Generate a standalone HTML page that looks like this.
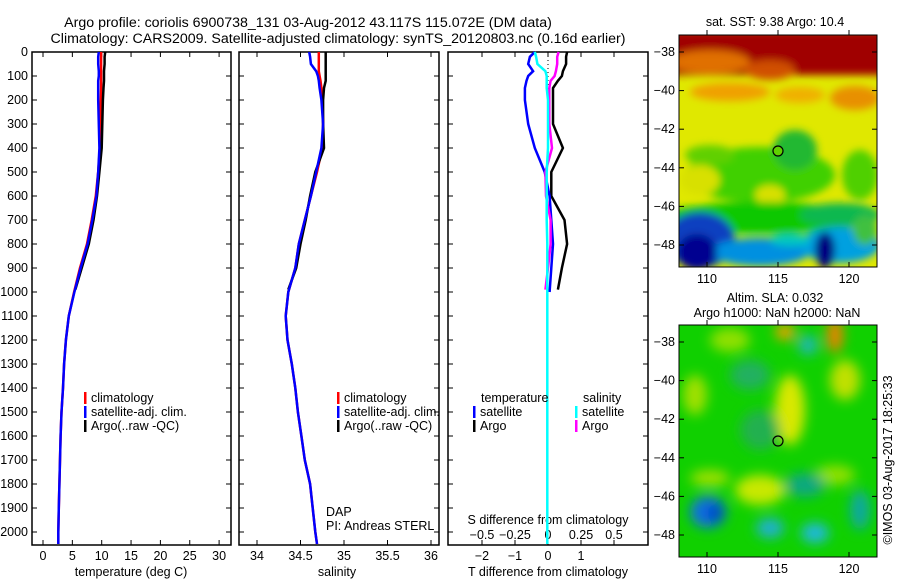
<!DOCTYPE html>
<html><head><meta charset="utf-8"><style>
body{margin:0;background:#fff;}
svg{display:block;font-family:"Liberation Sans",sans-serif;}
text{font-size:12.5px;fill:#000;}
.ttl{font-size:14.2px;}
</style></head><body>
<svg id="c" width="900" height="580">
<defs>
<filter id="bl" x="-20%" y="-20%" width="140%" height="140%"><feGaussianBlur stdDeviation="4"/></filter>
<filter id="bl2" x="-20%" y="-20%" width="140%" height="140%"><feGaussianBlur stdDeviation="6"/></filter>
<clipPath id="m1c"><rect x="679" y="35" width="198" height="232"/></clipPath>
<clipPath id="m2c"><rect x="679" y="325" width="198" height="232"/></clipPath>
</defs>
<text class="ttl" x="308" y="27" text-anchor="middle">Argo profile: coriolis 6900738_131 03-Aug-2012 43.117S 115.072E (DM data)</text>
<text class="ttl" x="338" y="43" text-anchor="middle">Climatology: CARS2009. Satellite-adjusted climatology: synTS_20120803.nc (0.16d earlier)</text>

<!-- Map 1 SST -->
<g clip-path="url(#m1c)">
<rect x="679" y="35" width="198" height="232" fill="#e0e800"/>
<g filter="url(#bl)">
<rect x="670" y="30" width="215" height="45" fill="#a00000"/>
<ellipse cx="710" cy="62" rx="40" ry="12" fill="#e07000"/>
<ellipse cx="770" cy="70" rx="25" ry="10" fill="#d05000"/>
<ellipse cx="730" cy="92" rx="40" ry="9" fill="#f0a000"/>
<ellipse cx="800" cy="95" rx="25" ry="8" fill="#f0b000"/>
<ellipse cx="855" cy="98" rx="25" ry="12" fill="#e89000"/>
<ellipse cx="760" cy="175" rx="75" ry="28" fill="#40d000"/>
<ellipse cx="795" cy="150" rx="22" ry="20" fill="#20b830"/>
<ellipse cx="710" cy="155" rx="25" ry="10" fill="#60d000"/>
<ellipse cx="860" cy="175" rx="18" ry="25" fill="#50d000"/>
<ellipse cx="700" cy="180" rx="20" ry="15" fill="#d8e000"/>
<ellipse cx="770" cy="195" rx="15" ry="10" fill="#d8e000"/>
<ellipse cx="760" cy="218" rx="100" ry="16" fill="#10c800"/>
<ellipse cx="840" cy="215" rx="40" ry="12" fill="#10b850"/>
<ellipse cx="700" cy="240" rx="35" ry="28" fill="#1040c0"/>
<ellipse cx="760" cy="252" rx="50" ry="14" fill="#0090e0"/>
<ellipse cx="840" cy="245" rx="40" ry="18" fill="#00a0e0"/>
<ellipse cx="697" cy="252" rx="20" ry="18" fill="#000090"/>
<ellipse cx="825" cy="250" rx="10" ry="18" fill="#000080"/>
<ellipse cx="790" cy="240" rx="20" ry="6" fill="#00c8c0"/>
<ellipse cx="865" cy="230" rx="12" ry="15" fill="#40c040"/>
</g>
<circle cx="778" cy="151" r="5" fill="#60d000" stroke="#000" stroke-width="1.2"/>
</g>
<rect x="679" y="35" width="198" height="232" fill="none" stroke="#000"/>
<text x="775" y="26" text-anchor="middle">sat. SST: 9.38 Argo: 10.4</text>

<!-- Map 2 SLA -->
<g clip-path="url(#m2c)">
<rect x="679" y="325" width="198" height="232" fill="#10d000"/>
<g filter="url(#bl2)">
<ellipse cx="790" cy="410" rx="15" ry="35" fill="#d8e800"/>
<ellipse cx="835" cy="335" rx="8" ry="18" fill="#f08000"/>
<ellipse cx="785" cy="332" rx="10" ry="8" fill="#f0a000"/>
<ellipse cx="845" cy="380" rx="15" ry="20" fill="#c0e000"/>
<ellipse cx="730" cy="340" rx="20" ry="12" fill="#90e000"/>
<ellipse cx="695" cy="395" rx="12" ry="20" fill="#a0e000"/>
<ellipse cx="760" cy="490" rx="25" ry="15" fill="#c8e800"/>
<ellipse cx="710" cy="478" rx="20" ry="8" fill="#a0e000"/>
<ellipse cx="835" cy="475" rx="20" ry="10" fill="#90e000"/>
<ellipse cx="708" cy="512" rx="18" ry="16" fill="#1070e0"/>
<ellipse cx="715" cy="513" rx="8" ry="8" fill="#0040c0"/>
<ellipse cx="770" cy="528" rx="14" ry="10" fill="#20b0d0"/>
<ellipse cx="815" cy="533" rx="14" ry="10" fill="#20b8e0"/>
<ellipse cx="805" cy="485" rx="20" ry="12" fill="#10a880"/>
<ellipse cx="860" cy="510" rx="10" ry="20" fill="#10a8a0"/>
<ellipse cx="808" cy="345" rx="10" ry="10" fill="#20b8b0"/>
<ellipse cx="750" cy="375" rx="20" ry="15" fill="#20b060"/>
<ellipse cx="760" cy="430" rx="20" ry="20" fill="#20b050"/>
</g>
<circle cx="778" cy="441" r="5" fill="none" stroke="#000" stroke-width="1.2"/>
</g>
<rect x="679" y="325" width="198" height="232" fill="none" stroke="#000"/>
<text x="775" y="302" text-anchor="middle">Altim. SLA: 0.032</text>
<text x="777" y="317" text-anchor="middle">Argo h1000: NaN h2000: NaN</text>
<text transform="translate(892,460) rotate(-90)" text-anchor="middle">©IMOS 03-Aug-2017 18:25:33</text>
<g id="maxes"></g>
<g id="plots"></g>
</svg>
<script>
// ---- data ----
const depths = [0,20,50,80,100,120,150,200,300,400,500,600,700,800,900,1000,1100,1200,1300,1400,1500,1600,1700,1800,1900,2000,2050];
const tempClim = [9.9,9.9,9.9,9.9,9.9,9.9,9.9,9.85,9.8,9.7,9.4,9.0,8.3,7.5,6.3,5.3,4.4,3.9,3.6,3.4,3.15,3.0,2.9,2.8,2.7,2.6,2.6];
const tempSat = [9.5,9.4,9.4,9.5,9.5,9.4,9.4,9.4,9.5,9.6,9.4,9.1,8.4,7.6,6.4,5.35,4.4,3.9,3.6,3.4,3.15,3.0,2.9,2.8,2.7,2.6,2.6];
const argoDepths = [0,20,50,80,100,120,150,200,300,400,500,600,700,800,900,990];
const tempArgo = [10.6,10.5,10.5,10.4,10.4,10.4,10.3,10.2,10.1,10.0,9.6,9.2,8.6,7.8,6.6,5.5];
const salClim = [34.71,34.71,34.71,34.71,34.72,34.73,34.74,34.75,34.76,34.75,34.69,34.62,34.55,34.48,34.44,34.36,34.33,34.35,34.40,34.44,34.47,34.51,34.55,34.61,34.64,34.67,34.69];
const salSat = [34.60,34.61,34.62,34.68,34.70,34.71,34.72,34.74,34.76,34.74,34.68,34.62,34.55,34.48,34.44,34.36,34.33,34.35,34.40,34.44,34.47,34.51,34.55,34.61,34.64,34.67,34.69];
const salArgo = [34.79,34.79,34.79,34.79,34.79,34.79,34.77,34.76,34.76,34.77,34.67,34.61,34.56,34.50,34.45,34.36];
const dTsat = [-0.4,-0.55,-0.6,-0.45,-0.6,-0.65,-0.7,-0.7,-0.6,-0.4,-0.1,0.05,0.1,0.15,0.1,0.05,0,0,0,0,0,0,0,0,0,0,0];
const dSsat = [-0.1,-0.09,-0.08,-0.02,-0.01,-0.01,-0.01,0,0,0,-0.01,-0.01,-0.01,-0.005,-0.005,-0.005,-0.005,-0.005,-0.005,-0.005,-0.005,-0.005,-0.005,-0.005,-0.005,-0.005,-0.005];
const dTargo = [0.58,0.55,0.55,0.45,0.42,0.3,0.15,0.15,0.15,0.45,0.1,0.1,0.5,0.58,0.42,0.3];
const dSargo = [0.08,0.07,0.07,0.06,0.05,0.02,0.01,0.01,0.01,0.03,-0.02,-0.015,0.02,0.02,0.0,-0.02];
const depthTicks = [0,100,200,300,400,500,600,700,800,900,1000,1100,1200,1300,1400,1500,1600,1700,1800,1900,2000];
const tempTicks = [0,5,10,15,20,25,30];
const salTicks = [34,34.5,35,35.5,36];
const tdTicks = [-2,-1,0,1];
const sdTicks = [-0.5,-0.25,0,0.25,0.5];
const latTicks = [-38,-40,-42,-44,-46,-48];
const lonTicks = [110,115,120];

// ---- axis functions ----
const NS='http://www.w3.org/2000/svg';
const Y0=52, Y1=545;
const yD = d => Y0 + d*0.24;
const xT = t => 43 + t*5.87;
const xS = s => 257 + (s-34)*87;
const xdT = t => 548 + t*33;
const xdS = s => 548 + s*132;
const latY1 = la => 52 + (-38-la)*19.3;
const latY2 = la => 342 + (-38-la)*19.3;
const lonX = lo => 707 + (lo-110)*14.2;
const plots=document.getElementById('plots');
function mk(tag,attrs,parent){const e=document.createElementNS(NS,tag);for(const k in attrs)e.setAttribute(k,attrs[k]);(parent||plots).appendChild(e);return e;}
function line(xs,ds,fx,color,name){
  const pts=xs.map((v,i)=>fx(v).toFixed(1)+','+yD(ds[i]).toFixed(1)).join(' ');
  const p=mk('polyline',{points:pts,fill:'none',stroke:color,'stroke-width':2.5});
  
  
}
function txt(x,y,s,anchor,name){const t=mk('text',{x:x,y:y,'text-anchor':anchor||'start'});t.textContent=s;
  
  
  return t;}
function frame(x0,x1,name){const r=mk('rect',{x:x0,y:Y0,width:x1-x0,height:Y1-Y0,fill:'none',stroke:'#000','stroke-width':1.5});
  
  }
function tick(x1,y1,x2,y2){const l=mk('line',{x1:x1,y1:y1,x2:x2,y2:y2,stroke:'#000','stroke-width':1});
  
  }

const panels=[[32,231],[239,439],[448,648]];
panels.forEach((p,i)=>{
  frame(p[0],p[1],'profile-panel-'+(i+1));
  depthTicks.forEach(d=>{tick(p[0],yD(d),p[0]+5,yD(d));tick(p[1]-5,yD(d),p[1],yD(d));});
});
depthTicks.forEach(d=>txt(28,yD(d)+4,String(d),'end','depth-tick-label'));
tempTicks.forEach(t=>{tick(xT(t),Y0,xT(t),Y0+5);tick(xT(t),Y1-5,xT(t),Y1);txt(xT(t),560,String(t),'middle','temp-tick-label');});
salTicks.forEach(s=>{tick(xS(s),Y0,xS(s),Y0+5);tick(xS(s),Y1-5,xS(s),Y1);txt(xS(s),560,String(s),'middle','salinity-tick-label');});
sdTicks.forEach(s=>{tick(xdS(s),Y0,xdS(s),Y0+5);tick(xdS(s),Y1-5,xdS(s),Y1);txt(xdS(s),539,String(s).replace('-','\u2212'),'middle','s-diff-tick-label');});
tdTicks.forEach(t=>txt(xdT(t),560,String(t).replace('-','\u2212'),'middle','t-diff-tick-label'));
txt(131,576,'temperature (deg C)','middle','temperature-axis-title');
txt(337,576,'salinity','middle','salinity-axis-title');
txt(548,576,'T difference from climatology','middle','t-diff-axis-title');
txt(548,524,'S difference from climatology','middle','s-diff-axis-title');
txt(326,516,'DAP','start','dap-label');
txt(326,530,'PI: Andreas STERL','start','pi-label');

// zero dotted line
const zl=mk('line',{x1:xdT(0),y1:Y0,x2:xdT(0),y2:yD(200),stroke:'#000','stroke-dasharray':'1,3'});



// temperature
line(tempClim,depths,xT,'#ff0000','temp-climatology-line');
line(tempArgo,argoDepths,xT,'#000','temp-argo-line');
line(tempSat,depths,xT,'#0000ff','temp-satellite-line');
// salinity
line(salClim,depths,xS,'#ff0000','salinity-climatology-line');
line(salArgo,argoDepths,xS,'#000','salinity-argo-line');
line(salSat,depths,xS,'#0000ff','salinity-satellite-line');
// differences
line(dTargo,argoDepths,xdT,'#000','t-diff-argo-line');
line(dTsat.slice(0,16),depths.slice(0,16),xdT,'#0000ff','t-diff-satellite-line');
line(dSargo,argoDepths,xdS,'#ff00ff','s-diff-argo-line');
line(dSsat,depths,xdS,'#00ffff','s-diff-satellite-line');

// legends
function leg(x,y,color,label,name){
  const r=mk('rect',{x:x,y:y-10,width:2.5,height:12,fill:color});
  
  
  if(label)txt(x+7,y,label,'start',name);
}
[[84,'climatology-legend'],[337,'climatology-legend-2']].forEach(([x,n])=>{
  leg(x,402,'#ff0000','climatology',n);
  leg(x,416,'#0000ff','satellite-adj. clim.',n+'-sat');
  leg(x,430,'#000','Argo(..raw -QC)',n+'-argo');
});
txt(481,402,'temperature','start','diff-legend-temperature-header');
leg(473,416,'#0000ff','satellite','diff-legend-t-satellite');
leg(473,430,'#000','Argo','diff-legend-t-argo');
txt(583,402,'salinity','start','diff-legend-salinity-header');
leg(575,416,'#00ffff','satellite','diff-legend-s-satellite');
leg(575,430,'#ff00ff','Argo','diff-legend-s-argo');

// map axes
const maxes=document.getElementById('maxes');
[[latY1,35,267],[latY2,325,557]].forEach(([fy,top,bot],mi)=>{
  latTicks.forEach(la=>{mk('line',{x1:679,y1:fy(la),x2:684,y2:fy(la),stroke:'#000'},maxes);mk('line',{x1:872,y1:fy(la),x2:877,y2:fy(la),stroke:'#000'},maxes);
    const t=txt(675,fy(la)+4,String(la).replace('-','\u2212'),'end','latitude-tick-label');maxes.appendChild(t);});
  lonTicks.forEach(lo=>{mk('line',{x1:lonX(lo),y1:top,x2:lonX(lo),y2:top-5,stroke:'#000'},maxes);mk('line',{x1:lonX(lo),y1:bot,x2:lonX(lo),y2:bot-5,stroke:'#000'},maxes);
    const t=txt(lonX(lo),bot+16,String(lo),'middle','longitude-tick-label');maxes.appendChild(t);});
});
</script>
</body></html>
